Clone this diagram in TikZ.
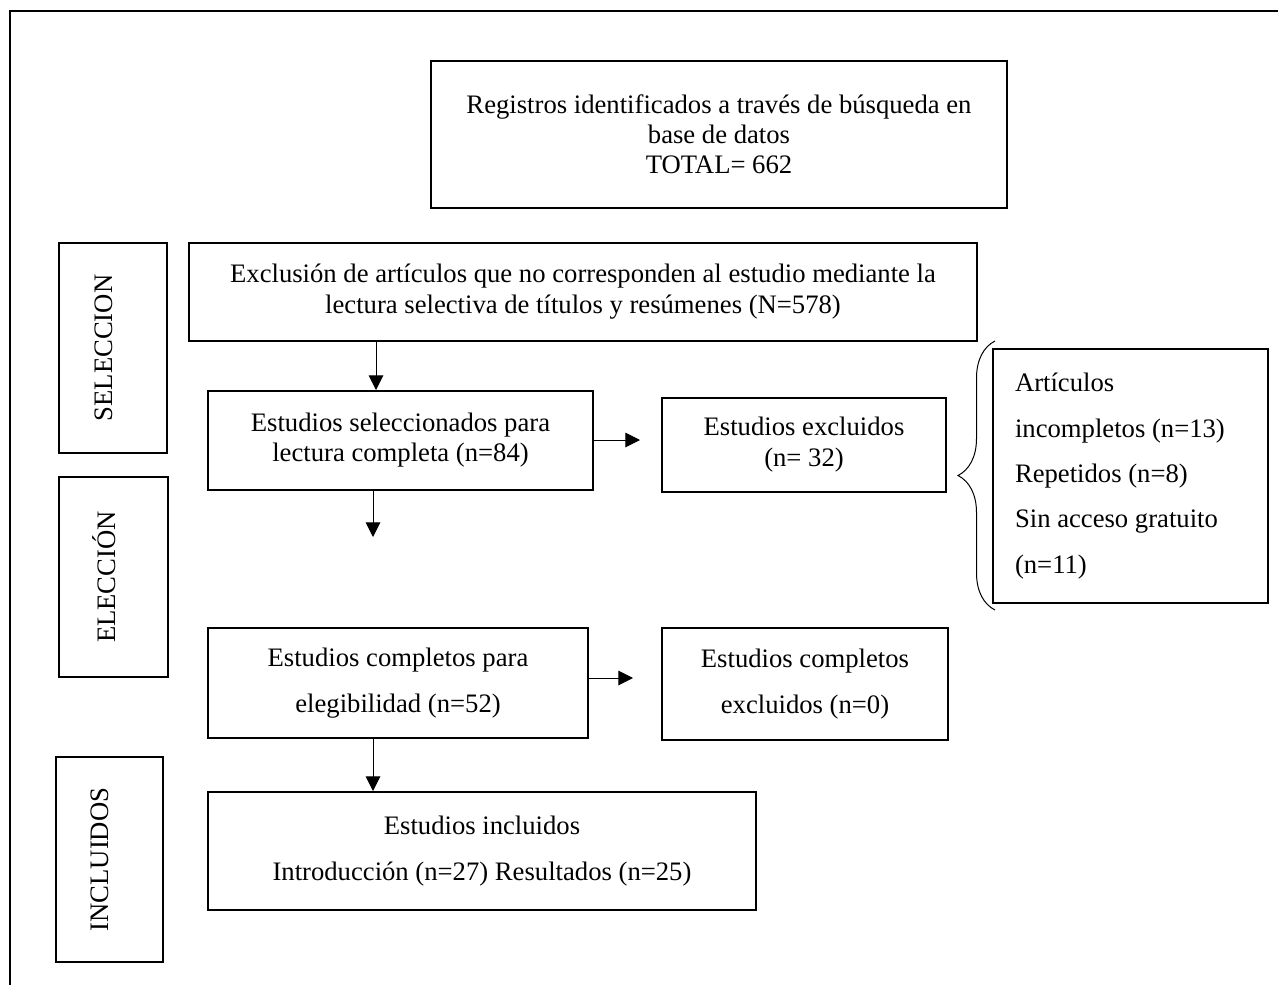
\documentclass[tikz,border=0pt]{standalone}
\usepackage{fontspec}
\setmainfont{Liberation Serif}
\usetikzlibrary{arrows.meta,decorations.pathreplacing}
\begin{document}
\begin{tikzpicture}[x=0.75pt,y=-0.75pt,
  box/.style={draw, line width=1.5pt, inner sep=0pt, align=center},
  sidebox/.style={draw, line width=1.5pt, inner sep=0pt, rotate=90, text depth=14pt, font=\fontsize{20}{24}\selectfont},
  arr/.style={line width=0.75pt, -{Triangle[length=11pt,width=11pt]}},
  t30/.style={font=\fontsize{20}{22.5}\selectfont},
  t31/.style={font=\fontsize{20}{23.25}\selectfont},
  t46/.style={font=\fontsize{20}{34.5}\selectfont},
  t47/.style={font=\fontsize{20}{35}\selectfont},
  frameline/.style={line width=1.5pt},
  bracestyle/.style={line width=0.75pt, decorate, decoration={brace, amplitude=27.75pt}}]
\useasboundingbox (0,0) rectangle (1278,985);

% outer frame (top and left edges only)
\coordinate (f1) at (10,985);
\coordinate (f2) at (10,11);
\coordinate (f3) at (1278,11);
\draw[frameline] (f1) -- (f2) -- (f3);

% main boxes
\node[box, t30, minimum width=432pt, minimum height=110.25pt] (reg) at (719,134.5)
  {Registros identificados a través de búsqueda en\\ base de datos\\ TOTAL= 662};
\node[box, t31, minimum width=591pt, minimum height=73.5pt] (excl) at (583,292)
  {Exclusión de artículos que no corresponden al estudio mediante la\\ lectura selectiva de títulos y resúmenes (N=578)};
\node[box, t30, minimum width=288.75pt, minimum height=74.25pt] (sel) at (400.5,440.5)
  {Estudios seleccionados para\\ lectura completa (n=84)};
\node[box, t31, minimum width=213pt, minimum height=70.5pt] (exc1) at (804,445)
  {Estudios excluidos\\ (n= 32)};
\node[box, font=\fontsize{20}{34}\selectfont, align=flush left, text width=173.25pt,
      minimum width=206.25pt, minimum height=190.5pt] (rbox) at (1130.5,476)
  {Artículos\\ incompletos (n=13)\\ Repetidos (n=8)\\ Sin acceso gratuito\\ (n=11)};
\node[box, t46, minimum width=285pt, minimum height=82.5pt] (comp) at (398,683)
  {Estudios completos para\\ elegibilidad (n=52)};
\node[box, t46, minimum width=214.5pt, minimum height=84pt] (exc2) at (805,684)
  {Estudios completos\\ excluidos (n=0)};
\node[box, t47, minimum width=411pt, minimum height=88.5pt] (inc) at (482,851)
  {Estudios incluidos\\ Introducción (n=27) Resultados (n=25)};

% side labels
\node[sidebox, minimum width=157.5pt, minimum height=81pt] (lsel) at (113,348) {SELECCION};
\node[sidebox, minimum width=150pt, minimum height=81.75pt] (lele) at (113.5,577) {ELECCIÓN};
\node[sidebox, minimum width=153.75pt, minimum height=80.25pt] (linc) at (109.5,859.5) {INCLUIDOS};

% connectors
\coordinate (a1) at (376,0);
\draw[arr] (excl.south -| a1) -- (sel.north -| a1);
\coordinate (a2) at (640,440);
\draw[arr] (sel.east |- a2) -- (a2);
\coordinate (a3) at (373,537);
\draw[arr] (sel.south -| a3) -- (a3);
\coordinate (a4) at (633,678);
\draw[arr] (comp.east |- a4) -- (a4);
\draw[arr] (comp.south -| a3) -- (inc.north -| a3);

% brace
\coordinate (b1) at (995,610);
\coordinate (b2) at (995,341);
\draw[bracestyle] (b1) -- (b2);
\end{tikzpicture}
\end{document}
